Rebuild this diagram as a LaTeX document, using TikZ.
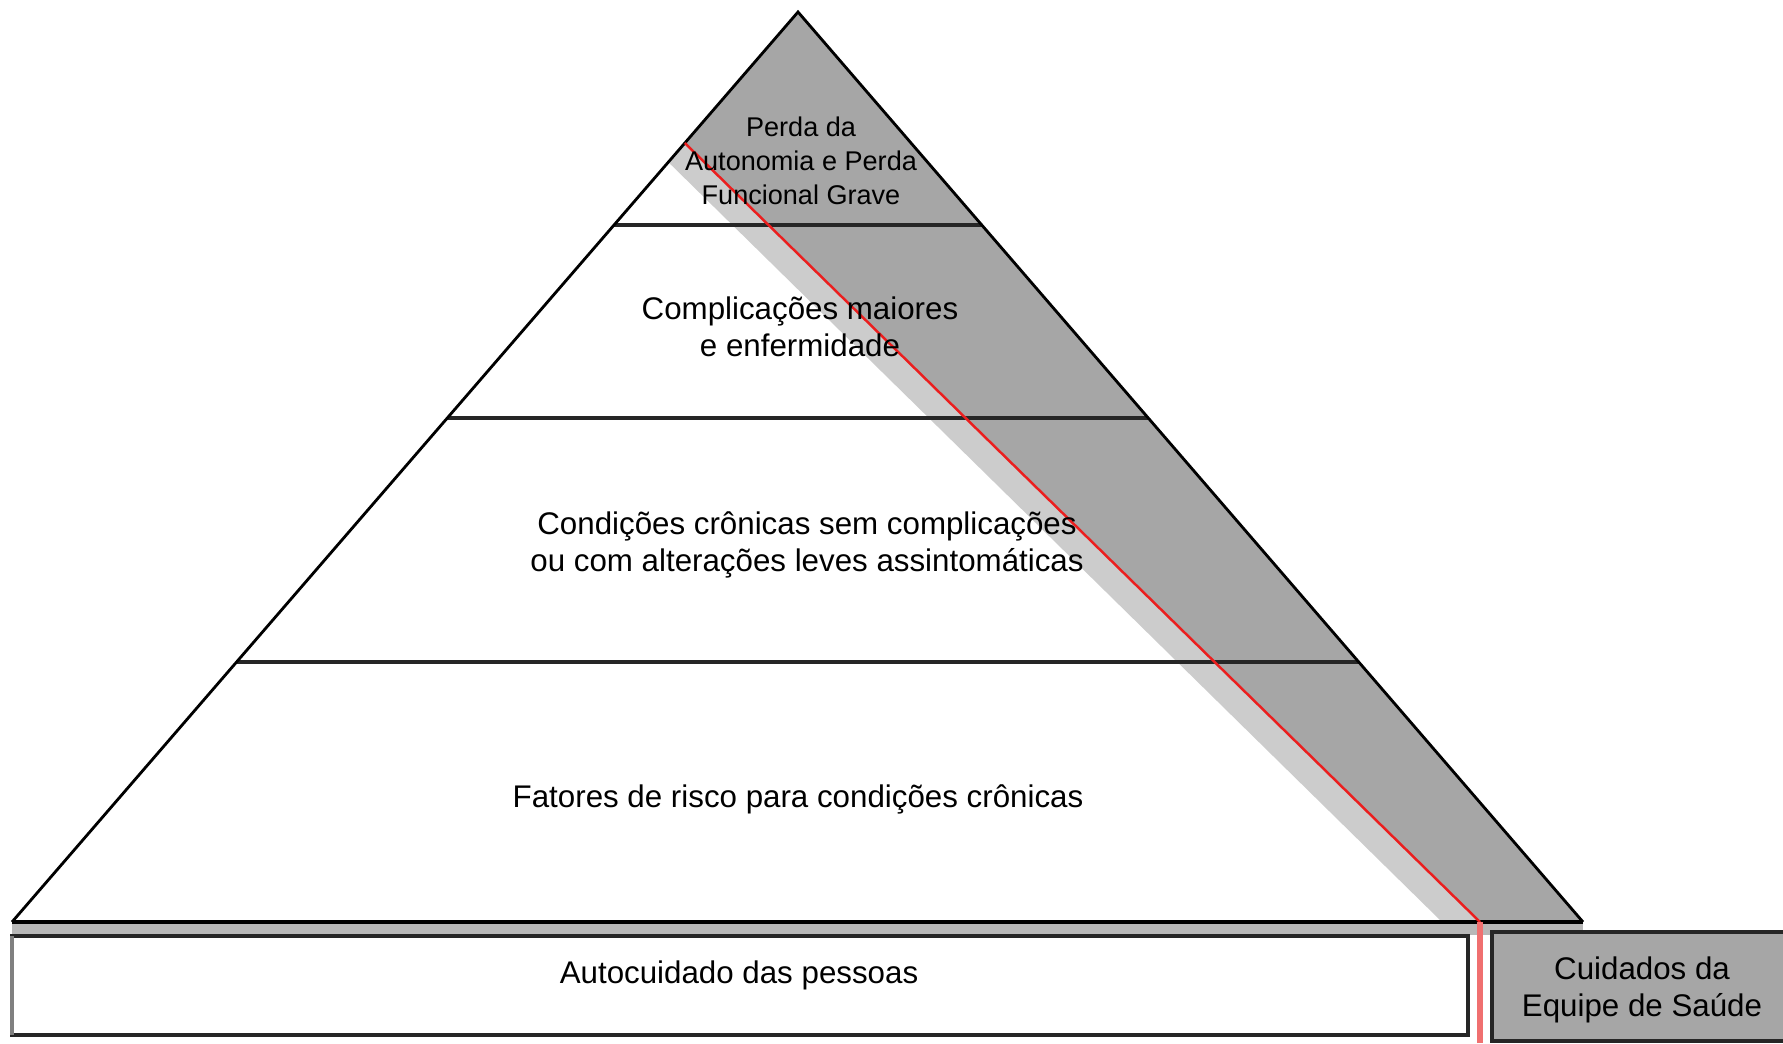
\documentclass[tikz,border=0pt]{standalone}
\usepackage{fontspec}
\setmainfont{Liberation Sans}
\usetikzlibrary{calc}
\definecolor{band}{RGB}{166, 166, 166}
\definecolor{bandlight}{RGB}{204, 204, 204}
\definecolor{cut}{RGB}{235, 30, 30}
\definecolor{cutlight}{RGB}{240, 112, 112}

\begin{document}
\begin{tikzpicture}[x=0.01cm, y=-0.01cm,
  lbl/.style={font=\fontsize{8.9}{10.5}\selectfont, align=center, inner sep=0pt},
  toplbl/.style={font=\fontsize{7.7}{9.7}\selectfont, align=center, inner sep=0pt}]

  \useasboundingbox (0, 0) rectangle (1783, 1043);

  \coordinate (apex) at (798, 12);
  \coordinate (left) at (12, 922);
  \coordinate (right) at (1583, 922);
  \coordinate (cuttop) at ($(apex)!0.144!(left)$);
  \coordinate (cutbot) at (1480, 922);

  % shadow and band of the team
  \fill[bandlight] (cuttop) -- (cutbot) -- ++(-38, 0) -- ($(apex)!0.165!(left)$) -- cycle;
  \fill[band] (apex) -- (right) -- (cutbot) -- (cuttop) -- cycle;
  \fill[band!80] (left) rectangle (1583, 935);

  % levels
  \foreach \t in {0.234, 0.446, 0.714}
    \draw[line width=1.1pt, black!85] ($(apex)!\t!(left)$) -- ($(apex)!\t!(right)$);

  \draw[line width=0.8pt] (left) -- (apex) -- (right);
  \draw[line width=1.1pt] (left) -- (right);
  \draw[cut, line width=0.7pt] (cuttop) -- (cutbot);
  \draw[cutlight, line width=1.8pt] (cutbot) -- (1480, 1043);

  % boxes at the base
  \draw[line width=1.1pt, black!85] (12, 936) rectangle (1468, 1035);
  \draw[line width=1.1pt, gray] (12, 936) -- (12, 1035);
  \fill[band] (1492, 932) rectangle (1783, 1041);
  \draw[line width=1.1pt, black!85] (1783, 932) -- (1492, 932) -- (1492, 1041) -- (1783, 1041);

  \node[toplbl] (perda) at (801, 161) {Perda da\\Autonomia e Perda\\Funcional Grave};
  \node[lbl] (compl) at (800, 327) {Complicações maiores\\e enfermidade};
  \node[lbl] (cond) at (807, 545) {Condições crônicas sem complicações\\ou com alterações leves assintomáticas};
  \node[lbl, anchor=base] (fatores) at (798, 807) {Fatores de risco para condições crônicas};
  \node[lbl, anchor=base] (auto) at (739, 983) {Autocuidado das pessoas};
  \node[lbl] (equipe) at (1642, 990) {Cuidados da\\Equipe de Saúde};

\end{tikzpicture}
\end{document}
